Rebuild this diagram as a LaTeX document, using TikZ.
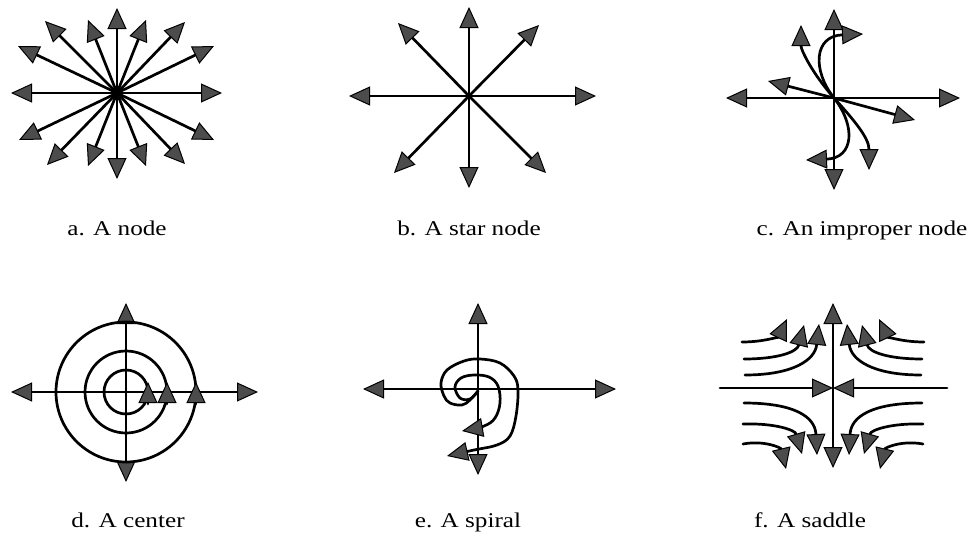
\documentclass[tikz,border=0pt]{standalone}
\usepackage{fontspec}
\setmainfont{Liberation Serif}
\usepackage{tkz-euclide}
\usetikzlibrary{arrows.meta,calc}
\definecolor{TipClr}{rgb}{0.3,0.3,0.3}
\tikzset{
  flowarrow/.style={line width=2.7pt,-{Triangle[length=21pt,width=19pt,fill=TipClr,line width=1pt]}},
  axisline/.style={line width=2.7pt},
  caption/.style={font=\fontsize{21}{25}\selectfont,anchor=base,xscale=1.2}
}

\begin{document}
\begin{tikzpicture}[x=1pt,y=-1pt,line cap=round]
\useasboundingbox (0,0) rectangle (972,538);

% a. node
\begin{scope}[shift={(117,93)}]
\tkzDefPoints{0/0/aO,0/-85/a1,29/-73/a2,68/-71/a3,97/-47/a4,105/0/a5,97/47/a6,68/71/a7,29/73/a8}
\tkzDefPoints{0/86/a9,-29/73/a10,-70/72/a11,-98/47/a12,-106/0/a13,-99/-47/a14,-72/-72/a15,-29/-73/a16}
\tkzDrawSegments[flowarrow](aO,a1 aO,a2 aO,a3 aO,a4 aO,a5 aO,a6 aO,a7 aO,a8)
\tkzDrawSegments[flowarrow](aO,a9 aO,a10 aO,a11 aO,a12 aO,a13 aO,a14 aO,a15 aO,a16)
\end{scope}

% b. star node
\begin{scope}[shift={(469,96)}]
\tkzDefPoints{0/0/bO,0/-89/b1,70/-71/b2,127/0/b3,77/77/b4,0/92/b5,-75/77/b6,-120/0/b7,-71/-73/b8}
\tkzDrawSegments[flowarrow](bO,b1 bO,b2 bO,b3 bO,b4 bO,b5 bO,b6 bO,b7 bO,b8)
\end{scope}

% c. improper node
\begin{scope}[shift={(834,98)}]
\tkzDefPoints{0/0/cO,0/-89/c1,126/0/c2,0/92/c3,-108/0/c4}
\tkzDefPoints{-66/-17/c5,-33/-73/c6,29/-64/c7,81/22/c8,35/72/c9,-28/62/c10}
\tkzDrawSegments[flowarrow](cO,c1 cO,c2 cO,c3 cO,c4 cO,c5 cO,c8)
\draw[flowarrow] (cO) .. controls (-22,-25) and (-33,-48) .. (c6);
\draw[flowarrow] (cO) .. controls (-22,-28) and (-20,-62) .. (c7);
\draw[flowarrow] (cO) .. controls (20,22) and (35,40) .. (c9);
\draw[flowarrow] (cO) .. controls (22,28) and (20,60) .. (c10);
\end{scope}

% d. center
\begin{scope}[shift={(126,392)}]
\tkzDefPoints{0/0/dO,0/-89/d1,132/0/d2,0/90/d3,-115/0/d4}
\tkzDrawSegments[flowarrow](dO,d1 dO,d2 dO,d3 dO,d4)
\foreach \r in {22,41,70}{
  \draw[axisline] (dO) circle[radius=\r];
  \draw[flowarrow] ($(dO)+(\r,12)$) -- ($(dO)+(\r,-10)$);
}
\end{scope}

% e. spiral
\begin{scope}[shift={(478,389)}]
\tkzDefPoints{0/0/eO,0/-86/e1,138/0/e2,0/86/e3,-115/0/e4}
\tkzDrawSegments[flowarrow](eO,e1 eO,e2 eO,e3 eO,e4)
\draw[flowarrow] plot[smooth,tension=0.6] coordinates {(0,2) (-8,10) (-18,9) (-23,-2) (-17,-11) (-4,-14) (11,-12) (20,-3) (22,14) (17,29) (6,37) (-16,42)};
\draw[flowarrow] plot[smooth,tension=0.6] coordinates {(0,2) (-8,11) (-16,16) (-28,14) (-34,7) (-37,-6) (-31,-19) (-14,-28) (2,-30) (22,-26) (36,-13) (40,1) (38,27) (32,47) (19,56) (-4,61) (-31,67)};
\end{scope}

% f. saddle
\begin{scope}[shift={(833,388)}]
\tkzDefPoints{0/0/fO,0/-85/f1,114/0/f2,0/80/f3,-113/0/f4}
\tkzDrawSegments[flowarrow](fO,f1 fO,f3 f2,fO f4,fO)
\foreach \m in {1,-1}{
  \begin{scope}[xscale=\m]
  \foreach \sx/\sy/\ax/\ay/\bx/\by/\tx/\ty in {
    -88/-13/-40/-13/-18/-28/-14/-64,
    -89/-29/-55/-29/-36/-36/-29/-63,
    -91/-46/-68/-46/-54/-52/-46/-69,
    -89/15/-40/15/-18/28/-16/67,
    -90/36/-58/35/-38/42/-31/66,
    -90/56/-68/52/-52/60/-47/81}
    \draw[flowarrow] (\sx,\sy) .. controls (\ax,\ay) and (\bx,\by) .. (\tx,\ty);
  \end{scope}
}
\end{scope}

\node[caption] (labA) at (117,235) {a. A node};
\node[caption] (labB) at (469,235) {b. A star node};
\node[caption] (labC) at (862,235) {c. An improper node};
\node[caption] (labD) at (128,527) {d. A center};
\node[caption] (labE) at (468,527) {e. A spiral};
\node[caption] (labF) at (810,527) {f. A saddle};

\end{tikzpicture}
\end{document}
